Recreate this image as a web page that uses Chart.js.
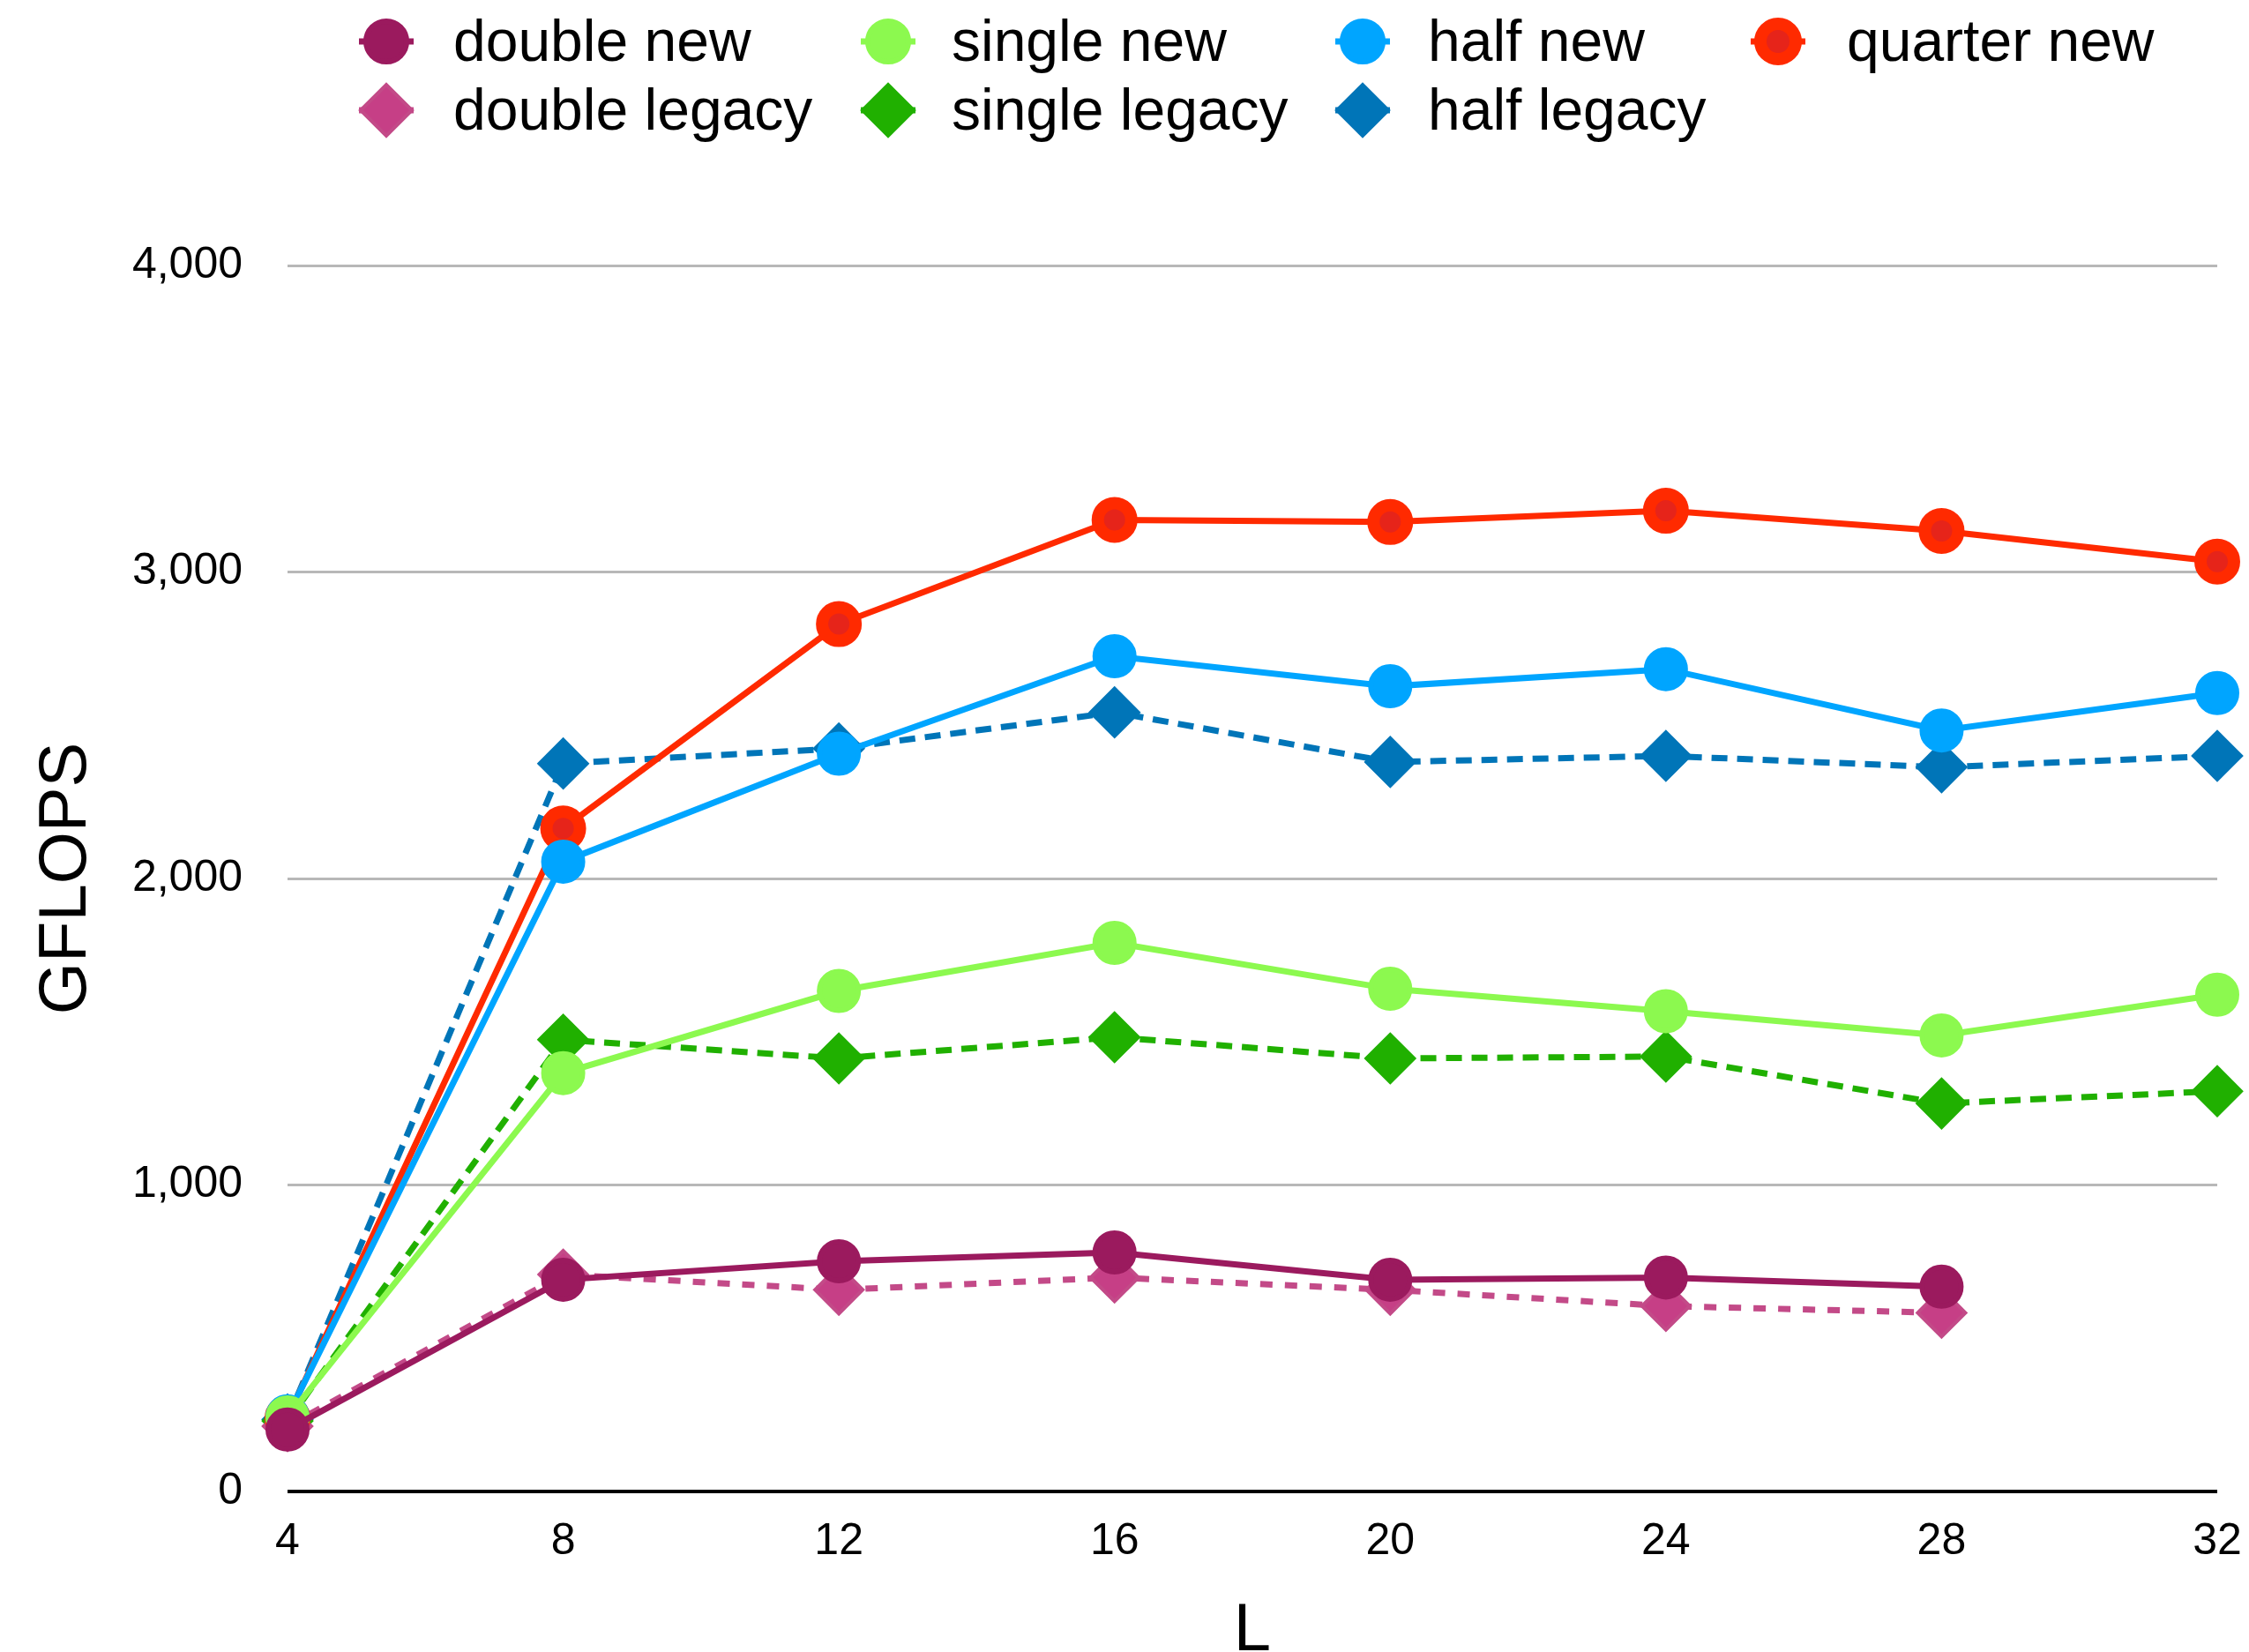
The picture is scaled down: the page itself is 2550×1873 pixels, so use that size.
<!DOCTYPE html>
<html>
<head>
<meta charset="utf-8">
<title>GFLOPS vs L</title>
<script src="https://cdn.jsdelivr.net/npm/chart.js@4.4.1/dist/chart.umd.min.js"></script>
<style>
  html, body { margin: 0; padding: 0; background: #ffffff; }
  #wrap { width: 2550px; height: 1873px; }
</style>
</head>
<body>
<div id="wrap"><canvas id="chart" width="2550" height="1873"></canvas></div>
<script>
// Problem size L on the x axis
const sizes = ['4', '8', '12', '16', '20', '24', '28', '32'];

// Measured throughput in GFLOPS per precision
const doubleNew    = [202, 691, 751, 780, 691, 698, 668, null];
const doubleLegacy = [213, 708, 658, 698, 658, 605, 583, null];
const singleNew    = [242, 1365, 1633, 1790, 1640, 1567, 1488, 1621];
const singleLegacy = [230, 1474, 1413, 1482, 1413, 1419, 1266, 1306];
const halfNew      = [245, 2055, 2407, 2725, 2627, 2683, 2483, 2605];
const halfLegacy   = [235, 2375, 2424, 2542, 2380, 2400, 2363, 2400];
const quarterNew   = [240, 2163, 2830, 3170, 3163, 3200, 3134, 3034];

// Y axis tick values
const yTicks = [0, 1000, 2000, 3000, 4000];

const FONT = '"Liberation Sans", Arial, Helvetica, sans-serif';

// Legend grid: marker centre x per column, text start x per column, row centres
const LEGEND_MARKER_X = [438, 1007, 1545, 2016];
const LEGEND_TEXT_X = [514, 1079, 1619, 2094];
const LEGEND_ROW_Y = [47, 125];

function circleSeries(label, data, color, cell) {
  return {
    label, data, legendCell: cell,
    borderColor: color, borderWidth: 7,
    pointStyle: 'circle', pointRadius: 22, pointHoverRadius: 22,
    pointBackgroundColor: color, pointBorderColor: color, pointBorderWidth: 6,
    tension: 0, clip: false, fill: false
  };
}
function diamondSeries(label, data, line, fillColor, dash, cell) {
  return {
    label, data, legendCell: cell,
    borderColor: line, borderWidth: 7, borderDash: dash,
    pointStyle: 'rectRot', pointRadius: 27, pointHoverRadius: 27,
    pointBackgroundColor: fillColor, pointBorderColor: line, pointBorderWidth: 4,
    tension: 0, clip: false, fill: false
  };
}

// Dataset 0 is drawn on top; "new" runs sit over the "legacy" runs
const datasets = [
  circleSeries('double new', doubleNew, '#9b1a5e', [0, 0]),
  circleSeries('single new', singleNew, '#8cf94f', [1, 0]),
  circleSeries('half new', halfNew, '#00a5ff', [2, 0]),
  Object.assign(circleSeries('quarter new', quarterNew, '#ff2a00', [3, 0]), {
    pointRadius: 19, pointHoverRadius: 19, pointBorderWidth: 14,
    pointBackgroundColor: '#e6241a', pointBorderColor: '#ff2a00'
  }),
  diamondSeries('double legacy', doubleLegacy, '#c34a88', '#c63f86', [14, 14], [0, 1]),
  diamondSeries('single legacy', singleLegacy, '#20b000', '#20b000', [18, 11], [1, 1]),
  diamondSeries('half legacy', halfLegacy, '#0075b8', '#0075b8', [18, 11], [2, 1])
];

// Two-row legend with aligned columns, drawn with the datasets' own styles
const legendGrid = {
  id: 'legendGrid',
  afterDraw(chart) {
    const ctx = chart.ctx;
    chart.data.datasets.forEach(ds => {
      const [col, row] = ds.legendCell;
      const x = LEGEND_MARKER_X[col];
      const y = LEGEND_ROW_Y[row];
      ctx.save();
      ctx.strokeStyle = ds.borderColor;
      ctx.lineWidth = ds.borderWidth;
      ctx.setLineDash(ds.borderDash || []);
      ctx.beginPath();
      ctx.moveTo(x - 31, y);
      ctx.lineTo(x + 31, y);
      ctx.stroke();
      ctx.setLineDash([]);
      ctx.fillStyle = ds.pointBackgroundColor;
      ctx.strokeStyle = ds.pointBorderColor;
      ctx.lineWidth = ds.pointBorderWidth;
      Chart.helpers.drawPoint(ctx, {
        pointStyle: ds.pointStyle,
        radius: ds.pointStyle === 'rectRot' ? ds.pointRadius + 2 : ds.pointRadius + 1,
        borderWidth: ds.pointBorderWidth,
        rotation: 0
      }, x, y);
      ctx.fillStyle = '#000000';
      ctx.font = '66px ' + FONT;
      ctx.textAlign = 'left';
      ctx.textBaseline = 'middle';
      ctx.fillText(ds.label, LEGEND_TEXT_X[col], y + 4);
      ctx.restore();
    });
  }
};

new Chart(document.getElementById('chart'), {
  type: 'line',
  data: { labels: sizes, datasets },
  plugins: [legendGrid],
  options: {
    responsive: false,
    animation: false,
    devicePixelRatio: 1,
    layout: { padding: { top: 301, right: 36, left: 0, bottom: 0 } },
    plugins: {
      legend: { display: false },
      tooltip: { enabled: false },
      title: { display: false }
    },
    scales: {
      x: {
        type: 'category',
        offset: false,
        grid: { display: false, drawTicks: false },
        border: { display: false },
        ticks: {
          color: '#000000',
          padding: 27,
          maxRotation: 0,
          autoSkip: false,
          font: { family: FONT, size: 50 }
        },
        title: {
          display: true,
          text: 'L',
          color: '#000000',
          padding: { top: 0, bottom: 0 },
          font: { family: FONT, size: 76, lineHeight: 0.6 }
        },
        afterFit(scale) {
          scale.height = 182;
          scale.paddingLeft = 0;
          scale.paddingRight = 0;
        }
      },
      y: {
        min: 0,
        max: 4000,
        afterBuildTicks(scale) { scale.ticks = yTicks.map(v => ({ value: v })); },
        grid: {
          drawTicks: false,
          color: c => (c.tick && c.tick.value === 0) ? '#000000' : '#b8b8b8',
          lineWidth: c => (c.tick && c.tick.value === 0) ? 4 : 3
        },
        border: { display: false },
        ticks: {
          color: '#000000',
          padding: 51,
          font: { family: FONT, size: 50 },
          callback: v => Number(v).toLocaleString('en-US')
        },
        title: {
          display: true,
          text: 'GFLOPS',
          color: '#000000',
          padding: { top: 30, bottom: 0 },
          font: { family: FONT, size: 76 }
        },
        afterFit(scale) { scale.width = 326; }
      }
    }
  }
});
</script>
</body>
</html>
